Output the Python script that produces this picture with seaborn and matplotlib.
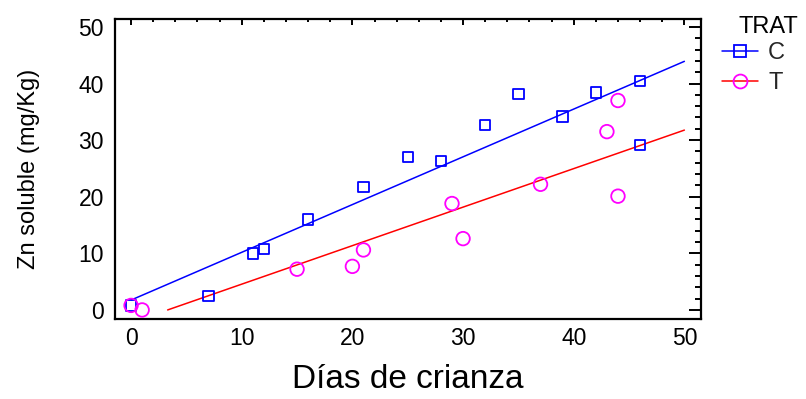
import numpy as np
import pandas as pd
import matplotlib
matplotlib.use("Agg")
import matplotlib.pyplot as plt
from matplotlib.lines import Line2D
from matplotlib.ticker import MultipleLocator
import seaborn as sns

# ---- data ----
dias_C = [0, 7, 11, 12, 16, 21, 25, 28, 32, 35, 39, 42, 46, 46]
zn_C = [0.8, 2.5, 10.0, 10.8, 16.0, 21.7, 27.0, 26.3, 32.7, 38.2, 34.2, 38.4, 40.4, 29.1]
dias_T = [0, 1, 15, 20, 21, 29, 30, 37, 43, 44, 44]
zn_T = [0.8, 0.0, 7.2, 7.7, 10.6, 18.8, 12.6, 22.2, 31.5, 37.0, 20.1]
trat_labels = ["C", "T"]
x_ticks = [0, 10, 20, 30, 40, 50]
y_ticks = [0, 10, 20, 30, 40, 50]

sns.set_theme(style="white")
plt.rcParams["font.family"] = ["Liberation Sans", "DejaVu Sans"]

df = pd.concat([
    pd.DataFrame({"dias": dias_C, "zn": zn_C, "TRAT": "C"}),
    pd.DataFrame({"dias": dias_T, "zn": zn_T, "TRAT": "T"}),
], ignore_index=True)

fig = plt.figure(figsize=(8.06, 3.99), dpi=100)
ax = fig.add_axes([0.1427, 0.2005, 0.7270, 0.7519])

styles = {
    "C": dict(marker="s", mcolor="#0000ff", lcolor="#0000ff", s=56),
    "T": dict(marker="o", mcolor="#ff00ff", lcolor="#ff0000", s=95),
}

# regression lines
for t in trat_labels:
    sub = df[df.TRAT == t]
    a, b = np.polyfit(sub.dias, sub.zn, 1)
    x0 = max(0.0, -b / a)
    xs = np.linspace(x0, 50, 50)
    sns.lineplot(x=xs, y=a * xs + b, ax=ax, color=styles[t]["lcolor"], linewidth=1.1)

# points
for t in trat_labels:
    sub = df[df.TRAT == t]
    st = styles[t]
    sns.scatterplot(data=sub, x="dias", y="zn", ax=ax, marker=st["marker"], s=st["s"],
                    facecolor="none", edgecolor=st["mcolor"], linewidth=1.3, zorder=3)

ax.set_xlim(-1.45, 51.5)
ax.set_ylim(-1.6, 51.4)
ax.set_xticks(x_ticks)
ax.set_yticks(y_ticks)
ax.xaxis.set_minor_locator(MultipleLocator(2))
ax.yaxis.set_minor_locator(MultipleLocator(2))
ax.tick_params(axis="both", which="both", direction="in", top=True, right=True,
               colors="black", labelsize=16.5, width=1.4)
ax.tick_params(axis="x", which="major", length=4, pad=6)
ax.tick_params(axis="x", which="minor", length=2.2)
ax.tick_params(axis="y", which="major", length=8.5, pad=8)
ax.tick_params(axis="y", which="minor", length=4.5)
for sp in ax.spines.values():
    sp.set_color("black")
    sp.set_linewidth(1.6)

ax.set_xlabel("Días de crianza", fontsize=24, color="black", labelpad=10)
ax.set_ylabel("Zn soluble (mg/Kg)", fontsize=17, color="black", labelpad=28)

handles = [
    Line2D([], [], color=styles[t]["lcolor"], linewidth=1.1, marker=styles[t]["marker"],
           markersize=(8 if t == "C" else 10), markerfacecolor="none",
           markeredgecolor=styles[t]["mcolor"], markeredgewidth=1.3)
    for t in trat_labels
]
fig.legend(handles, trat_labels, loc="upper left", bbox_to_anchor=(0.896, 0.895),
           frameon=False, fontsize=17, handlelength=1.5, handletextpad=0.45,
           labelspacing=0.35, borderaxespad=0, borderpad=0)
fig.text(0.916, 0.96, "TRAT", fontsize=17, ha="left", va="top", color="black")

fig.savefig("out.png", dpi=100)
